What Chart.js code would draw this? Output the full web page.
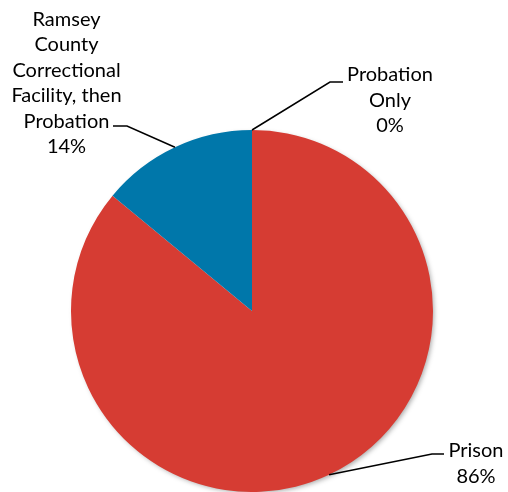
<!DOCTYPE html>
<html>
<head>
<meta charset="utf-8">
<script src="https://cdn.jsdelivr.net/npm/chart.js@4/dist/chart.umd.min.js"></script>
<style>
  html, body { margin: 0; padding: 0; background: #fff; }
</style>
</head>
<body>
<canvas id="pieChart" width="508" height="492"></canvas>
<script>
const categories = ['Prison', 'Ramsey County Correctional Facility, then Probation', 'Probation Only'];
const shares = [86, 14, 0];
const sliceColors = ['#D63C33', '#0077AA', '#A5A5A5'];
// category names broken into lines the way the original wraps them
const nameLines = [
    ['Prison'],
    ['Ramsey', 'County', 'Correctional', 'Facility, then', 'Probation'],
    ['Probation', 'Only']
];

// where each label sits: elbow of the leader line, end of the short hook,
// text centre x and baseline of the first line
const labelPlaces = [
    { elbow: [432, 454], hook: [444, 454], cx: 476, top: 457 },
    { elbow: [127, 126], hook: [113, 126], cx: 66.5, top: 25.5 },
    { elbow: [330, 82], hook: [343, 82], cx: 390, top: 81 }
];

const leaderLabels = {
    id: 'leaderLabels',
    beforeDatasetsDraw(chart) {
        // soft shadow under the pie
        const arc = chart.getDatasetMeta(0).data[0];
        const ctx = chart.ctx;
        ctx.save();
        ctx.shadowColor = 'rgba(0,0,0,0.35)';
        ctx.shadowBlur = 5;
        ctx.shadowOffsetX = 2;
        ctx.shadowOffsetY = 2;
        ctx.beginPath();
        ctx.arc(arc.x, arc.y, arc.outerRadius - 1, 0, Math.PI * 2);
        ctx.fillStyle = '#fff';
        ctx.fill();
        ctx.restore();
    },
    afterDatasetsDraw(chart) {
        const ctx = chart.ctx;
        const meta = chart.getDatasetMeta(0);
        ctx.save();
        meta.data.forEach((arc, i) => {
            const mid = (arc.startAngle + arc.endAngle) / 2;
            const ex = arc.x + Math.cos(mid) * arc.outerRadius;
            const ey = arc.y + Math.sin(mid) * arc.outerRadius;
            const p = labelPlaces[i];
            ctx.beginPath();
            ctx.moveTo(ex, ey);
            ctx.lineTo(p.elbow[0], p.elbow[1]);
            ctx.lineTo(p.hook[0], p.hook[1]);
            ctx.strokeStyle = '#000';
            ctx.lineWidth = 1.5;
            ctx.stroke();

            const lines = nameLines[i].concat([shares[i] + '%']);
            ctx.fillStyle = '#000';
            ctx.font = '20px Lato';
            ctx.textAlign = 'center';
            ctx.textBaseline = 'alphabetic';
            lines.forEach((t, j) => {
                ctx.fillText(t, p.cx, p.top + j * 25.5);
            });
        });
        ctx.restore();
    }
};

new Chart(document.getElementById('pieChart'), {
    type: 'pie',
    data: {
        labels: categories,
        datasets: [{
            data: shares,
            backgroundColor: sliceColors,
            borderWidth: 0
        }]
    },
    options: {
        responsive: false,
        animation: false,
        layout: { padding: { top: 130, right: 4, bottom: 0, left: 0 } },
        plugins: {
            legend: { display: false },
            tooltip: { enabled: false }
        }
    },
    plugins: [leaderLabels]
});
</script>
</body>
</html>
